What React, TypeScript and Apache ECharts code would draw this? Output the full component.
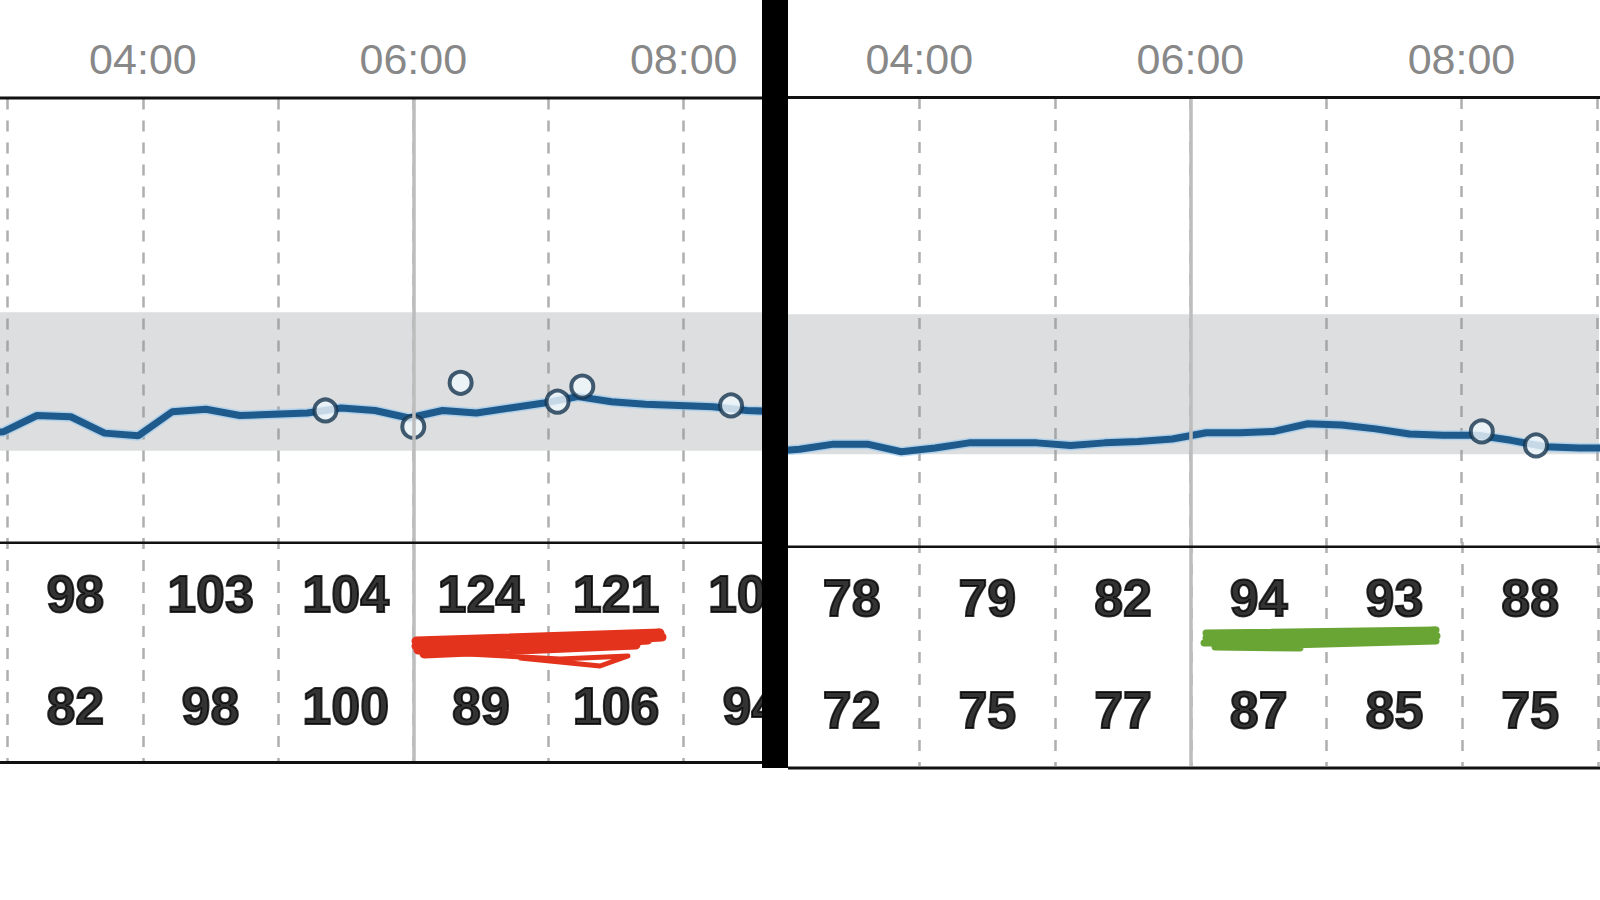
import React, { useEffect, useRef } from 'react';
import * as echarts from 'echarts';

// ---------- data ----------
const headerHours = [4, 6, 8];
const highlightHour = 6;
const targetLow = 70;
const targetHigh = 180;

const leftTimes = ['02:43','02:58','03:13','03:28','03:43','03:58','04:13','04:28','04:43','04:58','05:13','05:28','05:43','05:58','06:13','06:28','06:43','06:58','07:13','07:28','07:43','07:58','08:13','08:28','08:43'];
const leftGlucose = [83, 85, 98, 97, 84, 82, 101, 103, 98, 99, 100, 104, 102, 96, 102, 100, 104, 108, 113, 109, 107, 106, 105, 102, 101];
const leftScanTimes = ['05:21', '06:00', '06:21', '07:04', '07:15', '08:21'];
const leftScanValues = [102, 89, 124, 109, 121, 106];

const rightTimes = ['02:52','03:07','03:22','03:37','03:52','04:07','04:22','04:37','04:52','05:07','05:22','05:37','05:52','06:07','06:22','06:37','06:52','07:07','07:22','07:37','07:52','08:07','08:22','08:37','08:52','09:07'];
const rightGlucose = [72, 74, 78, 78, 72, 75, 79, 79, 79, 77, 79, 80, 82, 87, 87, 88, 94, 93, 90, 86, 85, 85, 81, 76, 75, 75];
const rightScanTimes = ['08:09', '08:33'];
const rightScanValues = [88, 77];

const hourColumns = [3, 4, 5, 6, 7, 8];
const leftHourMax = [98, 103, 104, 124, 121, 106];
const leftHourMin = [82, 98, 100, 89, 106, 94];
const rightHourMax = [78, 79, 82, 94, 93, 88];
const rightHourMin = [72, 75, 77, 87, 85, 75];

// ---------- helpers ----------
const FONT = "'Liberation Sans', Arial, Helvetica, sans-serif";
const DAY = Date.UTC(2024, 0, 1);
const HOUR = 3600 * 1000;
const atHour = (h: number) => DAY + h * HOUR;
const toTime = (s: string) => {
  const [h, m] = s.split(':').map(Number);
  return atHour(h + m / 60);
};
const pairs = (times: string[], vals: number[]) => times.map((t, i) => [toTime(t), vals[i]]);

const LINE_COLOR = '#1f5a8d';
const GRID_DASH = { color: '#afafaf', width: 2.5, type: [11, 11] as any };

function makeX(gridIndex: number, minH: number, maxH: number, showLabels: boolean) {
  return {
    type: 'time',
    gridIndex,
    min: atHour(minH),
    max: atHour(maxH),
    minInterval: HOUR,
    maxInterval: HOUR,
    position: 'top',
    axisLine: { show: false },
    axisTick: { show: false },
    axisLabel: {
      show: showLabels,
      margin: 18,
      fontSize: 43,
      color: '#888888',
      fontWeight: 'normal',
      fontFamily: FONT,
      hideOverlap: false,
      formatter: (v: number) => {
        const d = new Date(v);
        const h = d.getUTCHours();
        const m = d.getUTCMinutes();
        return m === 0 && headerHours.includes(h) ? `${String(h).padStart(2, '0')}:00` : '';
      },
    },
    splitLine: { show: true, showMinLine: false, showMaxLine: false, lineStyle: GRID_DASH },
  };
}

function makeY(gridIndex: number, min: number, max: number) {
  return { type: 'value', gridIndex, min, max, show: false, splitLine: { show: false } };
}

const highlightLine = {
  silent: true,
  symbol: ['none', 'none'],
  label: { show: false },
  lineStyle: { color: '#bdbdbd', width: 3.5, type: 'solid' },
  data: [{ xAxis: atHour(highlightHour) }],
};

function panelSeries(axisChart: number, axisTable: number, times: string[], vals: number[], scanT: string[], scanV: number[], maxRow: number[], minRow: number[]) {
  const lineData = pairs(times, vals);
  return [
    {
      type: 'line',
      xAxisIndex: axisChart,
      yAxisIndex: axisChart,
      data: lineData,
      showSymbol: false,
      symbol: 'none',
      silent: true,
      z: 1,
      lineStyle: { color: 'rgba(150,200,238,0.6)', width: 10 },
      markArea: {
        silent: true,
        itemStyle: { color: 'rgba(138,145,148,0.3)' },
        data: [[{ yAxis: targetLow }, { yAxis: targetHigh }]],
      },
      markLine: highlightLine,
    },
    {
      type: 'line',
      xAxisIndex: axisChart,
      yAxisIndex: axisChart,
      data: lineData,
      showSymbol: false,
      symbol: 'none',
      silent: true,
      z: 2,
      lineStyle: { color: LINE_COLOR, width: 7 },
    },
    {
      type: 'scatter',
      xAxisIndex: axisChart,
      yAxisIndex: axisChart,
      data: pairs(scanT, scanV),
      symbol: 'circle',
      symbolSize: 22,
      silent: true,
      z: 3,
      itemStyle: { color: '#f0f8fd', borderColor: '#15344f', borderWidth: 4 },
    },
    {
      type: 'scatter',
      xAxisIndex: axisTable,
      yAxisIndex: axisTable,
      symbolSize: 1,
      silent: true,
      itemStyle: { color: 'transparent' },
      label: {
        show: true,
        position: 'inside',
        formatter: (p: any) => String(p.value[2]),
        fontSize: 52,
        fontWeight: 'bold',
        color: '#000000',
        textBorderColor: '#000000',
        textBorderWidth: 2,
        fontFamily: FONT,
      },
      data: [
        ...hourColumns.map((h, i) => [atHour(h + 0.5), 3, maxRow[i]]),
        ...hourColumns.map((h, i) => [atHour(h + 0.5), 1, minRow[i]]),
      ],
      markLine: highlightLine,
    },
  ];
}

const line = (x1: number, y1: number, x2: number, y2: number, w: number) => ({
  type: 'line',
  z: 50,
  silent: true,
  shape: { x1, y1, x2, y2 },
  style: { stroke: '#111111', lineWidth: w },
});

const stroke = (points: number[][], color: string, w: number) => ({
  type: 'polyline',
  z: 80,
  silent: true,
  shape: { points },
  style: { stroke: color, lineWidth: w, lineCap: 'round', lineJoin: 'round', fill: null },
});

export default function App() {
  const ref = useRef<HTMLDivElement>(null);
  useEffect(() => {
    if (!ref.current) return;
    const chart = echarts.init(ref.current, undefined, { renderer: 'svg' });
    const option: any = {
      animation: false,
      useUTC: true,
      backgroundColor: '#ffffff',
      grid: [
        { left: 0, top: 98.5, width: 762, height: 440.3 },
        { left: 0, top: 538, width: 762, height: 224 },
        { left: 783.8, top: 98, width: 816.2, height: 445.4 },
        { left: 783.8, top: 542, width: 816.2, height: 224 },
      ],
      xAxis: [
        makeX(0, 2.94305, 8.5791, true),
        makeX(1, 2.94305, 8.5791, false),
        makeX(2, 3, 9.0147, true),
        makeX(3, 3, 9.0147, false),
      ],
      yAxis: [makeY(0, 0, 350), makeY(1, 0, 4), makeY(2, 0, 350), makeY(3, 0, 4)],
      series: [
        ...panelSeries(0, 1, leftTimes, leftGlucose, leftScanTimes, leftScanValues, leftHourMax, leftHourMin),
        ...panelSeries(2, 3, rightTimes, rightGlucose, rightScanTimes, rightScanValues, rightHourMax, rightHourMin),
      ],
      graphic: [
        line(0, 98, 762, 98, 3),
        line(0, 542.7, 762, 542.7, 2.5),
        line(0, 762.5, 762, 762.5, 3),
        line(788, 97.5, 1600, 97.5, 3),
        line(788, 546.7, 1600, 546.7, 2.5),
        line(788, 768, 1600, 768, 3),
        stroke([[416, 646], [660, 633], [416, 641], [662, 637], [418, 650], [648, 640], [424, 654], [636, 645]], '#e3331c', 9),
        stroke([[430, 652], [560, 659], [628, 656], [600, 666], [520, 658]], '#e3331c', 5),
        stroke([[1206, 633], [1436, 630], [1206, 638], [1437, 636], [1204, 643], [1436, 641], [1215, 647], [1300, 648]], '#69a534', 7),
        { type: 'rect', z: 90, silent: true, shape: { x: 788, y: 560, width: 11, height: 70 }, style: { fill: '#ffffff' } },
        { type: 'rect', z: 100, silent: true, shape: { x: 762, y: 0, width: 26, height: 768 }, style: { fill: '#000000' } },
      ],
    };
    chart.setOption(option);
    return () => chart.dispose();
  }, []);
  return <div ref={ref} style={{ position: 'absolute', left: 0, top: 0, width: 1600, height: 900 }} />;
}
